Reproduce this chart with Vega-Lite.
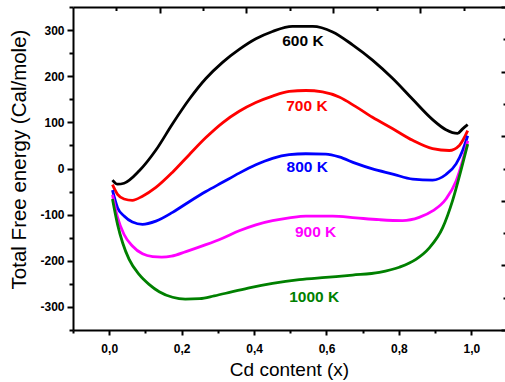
{
  "$schema": "https://vega.github.io/schema/vega-lite/v6.json",
  "autosize": {"type": "none"},
  "padding": {"left": 73, "top": 7, "right": 0, "bottom": 52},
  "width": 432,
  "height": 323,
  "config": {
    "view": {"stroke": null},
    "font": "Liberation Sans",
    "axis": {"grid": false, "domainColor": "#000", "tickColor": "#000", "labelColor": "#000", "titleColor": "#000"}
  },
  "data": {
    "values": [
      {"T": "600 K", "x": 0.009, "y": -25}, {"T": "600 K", "x": 0.023, "y": -34}, {"T": "600 K", "x": 0.041, "y": -32},
      {"T": "600 K", "x": 0.083, "y": -5}, {"T": "600 K", "x": 0.129, "y": 40}, {"T": "600 K", "x": 0.175, "y": 97},
      {"T": "600 K", "x": 0.221, "y": 150}, {"T": "600 K", "x": 0.267, "y": 195}, {"T": "600 K", "x": 0.313, "y": 230},
      {"T": "600 K", "x": 0.359, "y": 258}, {"T": "600 K", "x": 0.405, "y": 281}, {"T": "600 K", "x": 0.451, "y": 297},
      {"T": "600 K", "x": 0.506, "y": 308}, {"T": "600 K", "x": 0.562, "y": 308}, {"T": "600 K", "x": 0.617, "y": 296},
      {"T": "600 K", "x": 0.672, "y": 268}, {"T": "600 K", "x": 0.727, "y": 235}, {"T": "600 K", "x": 0.783, "y": 195},
      {"T": "600 K", "x": 0.838, "y": 150}, {"T": "600 K", "x": 0.893, "y": 106}, {"T": "600 K", "x": 0.930, "y": 84},
      {"T": "600 K", "x": 0.962, "y": 76}, {"T": "600 K", "x": 0.976, "y": 86}, {"T": "600 K", "x": 0.990, "y": 95},

      {"T": "700 K", "x": 0.009, "y": -35}, {"T": "700 K", "x": 0.023, "y": -56}, {"T": "700 K", "x": 0.041, "y": -66},
      {"T": "700 K", "x": 0.064, "y": -69}, {"T": "700 K", "x": 0.092, "y": -60}, {"T": "700 K", "x": 0.129, "y": -41},
      {"T": "700 K", "x": 0.175, "y": -8}, {"T": "700 K", "x": 0.221, "y": 30}, {"T": "700 K", "x": 0.267, "y": 67},
      {"T": "700 K", "x": 0.313, "y": 99}, {"T": "700 K", "x": 0.359, "y": 124}, {"T": "700 K", "x": 0.405, "y": 143},
      {"T": "700 K", "x": 0.451, "y": 157}, {"T": "700 K", "x": 0.497, "y": 167}, {"T": "700 K", "x": 0.543, "y": 169},
      {"T": "700 K", "x": 0.589, "y": 166}, {"T": "700 K", "x": 0.635, "y": 155}, {"T": "700 K", "x": 0.681, "y": 134},
      {"T": "700 K", "x": 0.727, "y": 111}, {"T": "700 K", "x": 0.783, "y": 86}, {"T": "700 K", "x": 0.838, "y": 61},
      {"T": "700 K", "x": 0.893, "y": 43}, {"T": "700 K", "x": 0.939, "y": 39}, {"T": "700 K", "x": 0.967, "y": 50},
      {"T": "700 K", "x": 0.990, "y": 82},

      {"T": "800 K", "x": 0.009, "y": -47}, {"T": "800 K", "x": 0.023, "y": -85}, {"T": "800 K", "x": 0.041, "y": -103},
      {"T": "800 K", "x": 0.064, "y": -116}, {"T": "800 K", "x": 0.092, "y": -121}, {"T": "800 K", "x": 0.129, "y": -114},
      {"T": "800 K", "x": 0.175, "y": -95}, {"T": "800 K", "x": 0.221, "y": -72}, {"T": "800 K", "x": 0.267, "y": -50},
      {"T": "800 K", "x": 0.313, "y": -30}, {"T": "800 K", "x": 0.359, "y": -10}, {"T": "800 K", "x": 0.405, "y": 8},
      {"T": "800 K", "x": 0.451, "y": 22}, {"T": "800 K", "x": 0.497, "y": 30}, {"T": "800 K", "x": 0.543, "y": 32},
      {"T": "800 K", "x": 0.598, "y": 31}, {"T": "800 K", "x": 0.635, "y": 25}, {"T": "800 K", "x": 0.681, "y": 11},
      {"T": "800 K", "x": 0.727, "y": -1}, {"T": "800 K", "x": 0.783, "y": -12}, {"T": "800 K", "x": 0.838, "y": -23},
      {"T": "800 K", "x": 0.893, "y": -25}, {"T": "800 K", "x": 0.930, "y": -13}, {"T": "800 K", "x": 0.958, "y": 10},
      {"T": "800 K", "x": 0.976, "y": 39}, {"T": "800 K", "x": 0.990, "y": 71},

      {"T": "900 K", "x": 0.009, "y": -57}, {"T": "900 K", "x": 0.023, "y": -106}, {"T": "900 K", "x": 0.041, "y": -143},
      {"T": "900 K", "x": 0.064, "y": -168}, {"T": "900 K", "x": 0.092, "y": -185}, {"T": "900 K", "x": 0.120, "y": -191},
      {"T": "900 K", "x": 0.145, "y": -192}, {"T": "900 K", "x": 0.172, "y": -190}, {"T": "900 K", "x": 0.212, "y": -180},
      {"T": "900 K", "x": 0.267, "y": -165}, {"T": "900 K", "x": 0.313, "y": -151}, {"T": "900 K", "x": 0.359, "y": -135},
      {"T": "900 K", "x": 0.405, "y": -122}, {"T": "900 K", "x": 0.451, "y": -113}, {"T": "900 K", "x": 0.497, "y": -107},
      {"T": "900 K", "x": 0.543, "y": -103}, {"T": "900 K", "x": 0.617, "y": -103}, {"T": "900 K", "x": 0.681, "y": -107},
      {"T": "900 K", "x": 0.746, "y": -111}, {"T": "900 K", "x": 0.810, "y": -113}, {"T": "900 K", "x": 0.856, "y": -106},
      {"T": "900 K", "x": 0.893, "y": -92}, {"T": "900 K", "x": 0.930, "y": -66}, {"T": "900 K", "x": 0.958, "y": -27},
      {"T": "900 K", "x": 0.976, "y": 17}, {"T": "900 K", "x": 0.990, "y": 60},

      {"T": "1000 K", "x": 0.009, "y": -66}, {"T": "1000 K", "x": 0.023, "y": -121}, {"T": "1000 K", "x": 0.037, "y": -161},
      {"T": "1000 K", "x": 0.055, "y": -197}, {"T": "1000 K", "x": 0.083, "y": -230}, {"T": "1000 K", "x": 0.110, "y": -251},
      {"T": "1000 K", "x": 0.138, "y": -267}, {"T": "1000 K", "x": 0.175, "y": -279}, {"T": "1000 K", "x": 0.210, "y": -283},
      {"T": "1000 K", "x": 0.250, "y": -282}, {"T": "1000 K", "x": 0.290, "y": -276}, {"T": "1000 K", "x": 0.335, "y": -268},
      {"T": "1000 K", "x": 0.390, "y": -258}, {"T": "1000 K", "x": 0.451, "y": -249}, {"T": "1000 K", "x": 0.525, "y": -241},
      {"T": "1000 K", "x": 0.598, "y": -236}, {"T": "1000 K", "x": 0.672, "y": -231}, {"T": "1000 K", "x": 0.746, "y": -225},
      {"T": "1000 K", "x": 0.801, "y": -214}, {"T": "1000 K", "x": 0.847, "y": -197}, {"T": "1000 K", "x": 0.884, "y": -172},
      {"T": "1000 K", "x": 0.921, "y": -128}, {"T": "1000 K", "x": 0.948, "y": -70}, {"T": "1000 K", "x": 0.971, "y": -5},
      {"T": "1000 K", "x": 0.990, "y": 53}
    ]
  },
  "layer": [
    {
      "mark": {"type": "line", "strokeWidth": 2.8, "interpolate": "monotone"},
      "encoding": {
        "x": {
          "field": "x", "type": "quantitative",
          "scale": {"domain": [-0.1, 1.093], "nice": false, "zero": false},
          "axis": {
            "orient": "bottom",
            "values": [-0.1, 0, 0.1, 0.2, 0.3, 0.4, 0.5, 0.6, 0.7, 0.8, 0.9, 1.0],
            "tickSize": {"condition": {"test": "round(datum.value*10)%2==0", "value": 5}, "value": 3},
            "tickWidth": 2, "domainWidth": 2,
            "labelExpr": "round(datum.value*10)%2==0 ? replace(format(datum.value,'.1f'),'.',',') : ''",
            "labelFont": "Liberation Sans", "labelFontWeight": "bold", "labelFontSize": 12, "labelPadding": 8,
            "title": "Cd content (x)", "titleFont": "Liberation Sans", "titleFontSize": 19, "titleFontWeight": "normal", "titlePadding": 6
          }
        },
        "y": {
          "field": "y", "type": "quantitative",
          "scale": {"domain": [-350, 350], "nice": false, "zero": false},
          "axis": {
            "orient": "left",
            "values": [-350, -300, -250, -200, -150, -100, -50, 0, 50, 100, 150, 200, 250, 300, 350],
            "tickSize": {"condition": {"test": "datum.value%100==0", "value": 6}, "value": 4},
            "tickWidth": 2, "domainWidth": 2,
            "labelExpr": "datum.value%100==0 ? ''+datum.value : ''",
            "labelFont": "Liberation Sans", "labelFontWeight": "bold", "labelFontSize": 12, "labelPadding": 3,
            "title": "Total Free energy (Cal/mole)", "titleFont": "Liberation Sans", "titleFontSize": 20.5, "titleFontWeight": "normal",
            "titleX": -54, "titleY": 152, "titleBaseline": "middle"
          }
        },
        "color": {
          "field": "T", "type": "nominal",
          "scale": {"domain": ["600 K", "700 K", "800 K", "900 K", "1000 K"], "range": ["#000000", "#ff0000", "#0000ff", "#ff00ff", "#008000"]},
          "legend": null
        }
      }
    },
    {
      "mark": {"type": "point", "opacity": 0},
      "encoding": {
        "x": {
          "field": "x", "type": "quantitative",
          "axis": {
            "orient": "top", "values": [0.0185, 0.14, 0.26, 0.378, 0.499, 0.619, 0.74, 0.858, 0.979],
            "tickSize": {"condition": {"test": "indexof([0.14,0.378,0.619,0.858], datum.value) >= 0", "value": -6}, "value": -3.5},
            "tickWidth": 2, "domainWidth": 2, "labels": false, "title": null
          }
        },
        "y": {
          "field": "y", "type": "quantitative",
          "axis": {
            "orient": "right", "values": [-350, -280, -210, -140, -70, 0, 70, 140, 210, 280, 350],
            "tickSize": {"condition": {"test": "abs(datum.value)%140==70", "value": -4}, "value": -2},
            "tickWidth": 2, "domain": false, "labels": false, "title": null
          }
        }
      }
    },
    {
      "data": {
        "values": [
          {"T": "600 K", "x": 0.535, "y": 276},
          {"T": "700 K", "x": 0.546, "y": 135},
          {"T": "800 K", "x": 0.547, "y": 3},
          {"T": "900 K", "x": 0.570, "y": -137},
          {"T": "1000 K", "x": 0.566, "y": -279}
        ]
      },
      "mark": {"type": "text", "font": "Liberation Sans", "fontWeight": "bold", "fontSize": 15.5, "baseline": "middle", "align": "center"},
      "encoding": {
        "x": {"field": "x", "type": "quantitative", "axis": null},
        "y": {"field": "y", "type": "quantitative", "axis": null},
        "text": {"field": "T"},
        "color": {"field": "T", "type": "nominal", "legend": null}
      }
    }
  ],
  "resolve": {"axis": {"x": "independent", "y": "independent"}}
}
